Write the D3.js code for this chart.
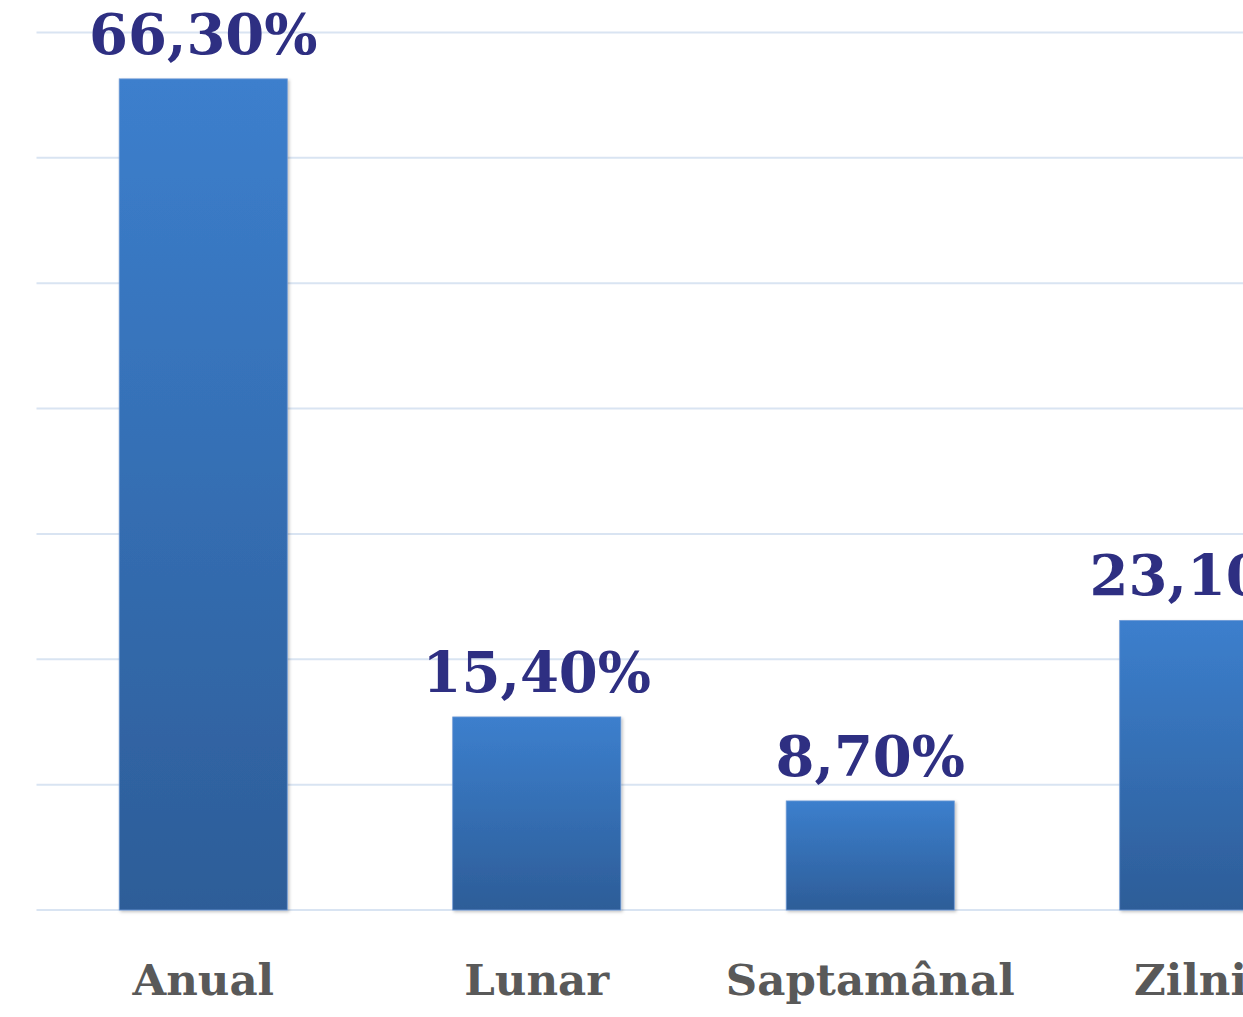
<!DOCTYPE html>
<html>
<head>
<meta charset="utf-8">
<script src="https://cdn.jsdelivr.net/npm/d3@7"></script>
<style>
  html, body { margin: 0; padding: 0; background: #fff; overflow: hidden; }
</style>
</head>
<body>
<div id="chart"></div>
<script>
// Data
const categories = ["Anual", "Lunar", "Saptamânal", "Zilnic"];
const values = [66.3, 15.4, 8.7, 23.1];
const yTicks = [0, 10, 20, 30, 40, 50, 60, 70];

// Configuration
const width = 1243;
const height = 1017;
const fontFamily = "'DejaVu Serif', 'Liberation Serif', serif";

const locale = d3.formatLocale({ decimal: ",", thousands: ".", grouping: [3], currency: ["", ""] });
const fmt = v => locale.format(".2f")(v) + "%";

const svg = d3.select("#chart")
    .append("svg")
    .attr("width", width)
    .attr("height", height)
    .attr("viewBox", [0, 0, width, height]);

const defs = svg.append("defs");

// Vertical gradient used by every bar
const grad = defs.append("linearGradient")
    .attr("id", "barGrad")
    .attr("x1", 0).attr("y1", 0)
    .attr("x2", 0).attr("y2", 1);
grad.append("stop").attr("offset", "0%").attr("stop-color", "#3c7fcd");
grad.append("stop").attr("offset", "100%").attr("stop-color", "#2d5d98");

const shadow = defs.append("filter")
    .attr("id", "barShadow")
    .attr("x", "-10%").attr("y", "-10%")
    .attr("width", "130%").attr("height", "130%");
shadow.append("feDropShadow")
    .attr("dx", 1.5).attr("dy", 1.5)
    .attr("stdDeviation", 1.5)
    .attr("flood-color", "#000")
    .attr("flood-opacity", 0.25);

// Scales (plot area extends past the right edge, as in the cropped reference)
const x = d3.scaleBand()
    .domain(categories)
    .range([36.5, 1370.5])
    .paddingInner(0.496)
    .paddingOuter(0.248);

const y = d3.scaleLinear()
    .domain([0, 70])
    .range([910, 32.5]);

// Gridlines
svg.append("g")
    .attr("class", "grid")
    .selectAll("line")
    .data(yTicks)
    .join("line")
    .attr("x1", 36.5)
    .attr("x2", width)
    .attr("y1", d => y(d))
    .attr("y2", d => y(d))
    .attr("stroke", "#d9e4f2")
    .attr("stroke-width", 2);

// Bars
svg.append("g")
    .selectAll("rect")
    .data(values)
    .join("rect")
    .attr("x", (d, i) => x(categories[i]))
    .attr("y", d => y(d))
    .attr("width", x.bandwidth())
    .attr("height", d => y(0) - y(d))
    .attr("fill", "url(#barGrad)")
    .attr("stroke", "#6f9ad6")
    .attr("stroke-width", 0.8)
    .attr("filter", "url(#barShadow)");

// Value labels
svg.append("g")
    .selectAll("text")
    .data(values)
    .join("text")
    .attr("x", (d, i) => x(categories[i]) + x.bandwidth() / 2)
    .attr("y", d => y(d) - 25)
    .attr("text-anchor", "middle")
    .style("font-family", fontFamily)
    .style("font-weight", "bold")
    .style("font-size", "56px")
    .style("fill", "#2e2f82")
    .text(d => fmt(d));

// Category axis labels
svg.append("g")
    .selectAll("text")
    .data(categories)
    .join("text")
    .attr("x", d => x(d) + x.bandwidth() / 2)
    .attr("y", 995)
    .attr("text-anchor", "middle")
    .style("font-family", fontFamily)
    .style("font-weight", "bold")
    .style("font-size", "43.5px")
    .style("fill", "#595959")
    .text(d => d);
</script>
</body>
</html>
